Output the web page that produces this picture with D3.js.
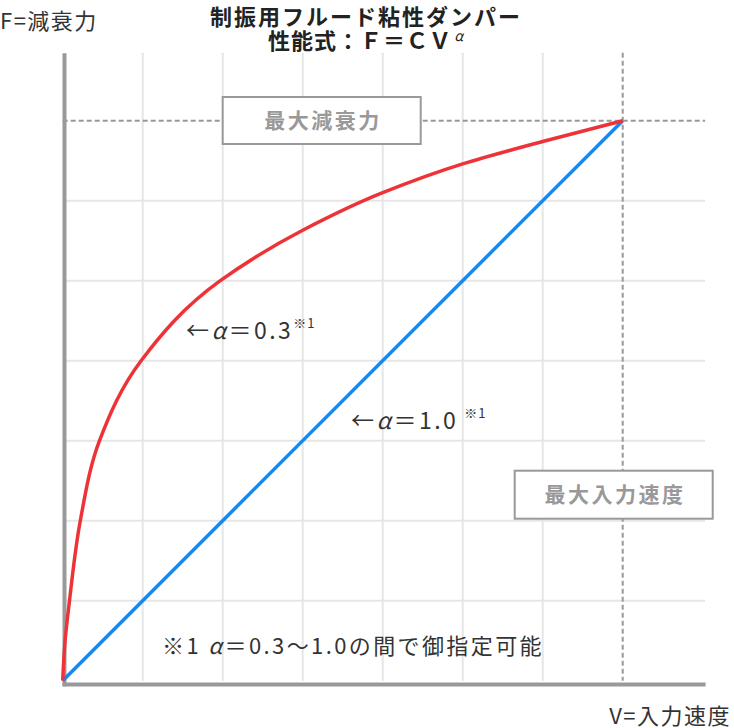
<!DOCTYPE html>
<html>
<head>
<meta charset="utf-8">
<script src="https://cdn.jsdelivr.net/npm/d3@7"></script>
<style>
  html, body { margin: 0; padding: 0; background: #fff; }
  svg { display: block; }
  text { font-family: "Noto Sans CJK JP", "Noto Sans", sans-serif; }
</style>
</head>
<body>
<svg id="chart" width="734" height="728"></svg>
<script>
// ---- data (grid units: V = velocity, F = force) ----
const gridV = [1, 2, 3, 4, 5, 6];
const gridF = [1, 2, 3, 4, 5, 6];
const maxV = 7;
const maxF = 7;
const linearV = [0, 7];
const linearF = [0, 7];
const curveV = [0, 0.03, 0.085, 0.22, 0.46, 0.98, 1.97, 3, 4, 5, 6, 7];
const curveF = [0, 0.5, 1.0, 2.0, 3.0, 4.0, 5.0, 5.63, 6.1, 6.46, 6.74, 7];

const titleLine1 = "制振用フルード粘性ダンパー";
const titleLine2 = "性能式：Ｆ＝ＣＶ";
const yLabel = "F=減衰力";
const xLabel = "V=入力速度";
const boxMaxF = "最大減衰力";
const boxMaxV = "最大入力速度";

const svg = d3.select("#chart");
const x = d3.scaleLinear().domain([0, 8]).range([62.7, 702.7]);
const y = d3.scaleLinear().domain([0, 7]).range([680.7, 120.7]);

const gridColor = "#e6e6e6";
const axisColor = "#999999";

// grid
svg.append("g").selectAll("line").data(gridV).join("line")
  .attr("x1", d => x(d)).attr("x2", d => x(d))
  .attr("y1", y(7.85)).attr("y2", y(0))
  .attr("stroke", gridColor).attr("stroke-width", 2);
svg.append("g").selectAll("line").data(gridF).join("line")
  .attr("x1", x(0)).attr("x2", x(8.03))
  .attr("y1", d => y(d)).attr("y2", d => y(d))
  .attr("stroke", gridColor).attr("stroke-width", 2);

// dashed max lines
svg.append("line")
  .attr("x1", x(0)).attr("x2", x(8.03))
  .attr("y1", y(maxF)).attr("y2", y(maxF))
  .attr("stroke", axisColor).attr("stroke-width", 2).attr("stroke-dasharray", "5,3");
svg.append("line")
  .attr("x1", x(maxV)).attr("x2", x(maxV))
  .attr("y1", y(7.85)).attr("y2", y(0))
  .attr("stroke", axisColor).attr("stroke-width", 2).attr("stroke-dasharray", "5,3");

// axes
const yAxis = d3.axisLeft(d3.scaleLinear().domain([0, 7.85]).range([y(0) + 5, y(7.85)])).tickValues([]).tickSizeOuter(0);
const gy = svg.append("g").attr("transform", `translate(${x(0) + 1.3},0)`).call(yAxis);
gy.select(".domain").attr("stroke", axisColor).attr("stroke-width", 4);
const xAxis = d3.axisBottom(d3.scaleLinear().domain([0, 8]).range([x(0) - 0.7, x(8.03)])).tickValues([]).tickSizeOuter(0);
const gx = svg.append("g").attr("transform", `translate(0,${y(0) + 3.3})`).call(xAxis);
gx.select(".domain").attr("stroke", axisColor).attr("stroke-width", 4);

// lines
svg.append("path")
  .datum(d3.zip(linearV, linearF))
  .attr("d", d3.line().x(d => x(d[0])).y(d => y(d[1])))
  .attr("fill", "none").attr("stroke", "#1787f2").attr("stroke-width", 3.5);
svg.append("path")
  .datum(d3.zip(curveV, curveF))
  .attr("d", d3.line().x(d => x(d[0])).y(d => y(d[1])).curve(d3.curveMonotoneY))
  .attr("fill", "none").attr("stroke", "#ee3338").attr("stroke-width", 3.5);

// boxes
function box(cx, cy, w, h, label) {
  svg.append("rect")
    .attr("x", cx - w / 2).attr("y", cy - h / 2).attr("width", w).attr("height", h)
    .attr("fill", "#fff").attr("stroke", axisColor).attr("stroke-width", 2);
  svg.append("text")
    .attr("x", cx + 1.2).attr("y", cy + 7.5).attr("text-anchor", "middle")
    .attr("font-size", 21).attr("letter-spacing", 2.5).attr("font-weight", "bold").attr("fill", "#999")
    .text(label);
}
box(321.7, 120.5, 198, 47, boxMaxF);
box(613.7, 494.7, 198, 48, boxMaxV);

// titles
svg.append("text").attr("x", 366).attr("y", 25).attr("text-anchor", "middle")
  .attr("font-size", 22).attr("letter-spacing", 2).attr("font-weight", "bold").attr("fill", "#222")
  .text(titleLine1);
const t2 = svg.append("text").attr("x", 366).attr("y", 49).attr("text-anchor", "middle")
  .attr("font-size", 22).attr("letter-spacing", 1).attr("font-weight", "bold").attr("fill", "#222");
t2.append("tspan").text(titleLine2);
t2.append("tspan").attr("font-size", 14).attr("dx", 2).attr("dy", -8).attr("font-weight", "normal").attr("font-style", "italic").text("α");

// axis labels
svg.append("text").attr("x", 0).attr("y", 29).attr("font-size", 22).attr("letter-spacing", 1.5).attr("fill", "#333").text(yLabel);
svg.append("text").attr("x", 731).attr("y", 724).attr("text-anchor", "end").attr("font-size", 22).attr("letter-spacing", 1.5).attr("fill", "#333").text(xLabel);

// annotations
function ann(px, py, value, gap) {
  const t = svg.append("text").attr("x", px).attr("y", py).attr("font-size", 23).attr("letter-spacing", 2.5).attr("fill", "#333");
  t.append("tspan").text("←");
  t.append("tspan").attr("font-style", "italic").text("α");
  t.append("tspan").text("＝" + value);
  t.append("tspan").attr("font-size", 13).attr("letter-spacing", 1).attr("dx", gap).attr("dy", -11).text("※1");
}
ann(186, 339, "0.3", 0);
ann(351, 429, "1.0", 6);

const n = svg.append("text").attr("x", 162).attr("y", 654).attr("font-size", 22).attr("letter-spacing", 2.4).attr("fill", "#333");
n.append("tspan").text("※1 ");
n.append("tspan").attr("font-style", "italic").text("α");
n.append("tspan").text("＝0.3〜1.0の間で御指定可能");
</script>
</body>
</html>
